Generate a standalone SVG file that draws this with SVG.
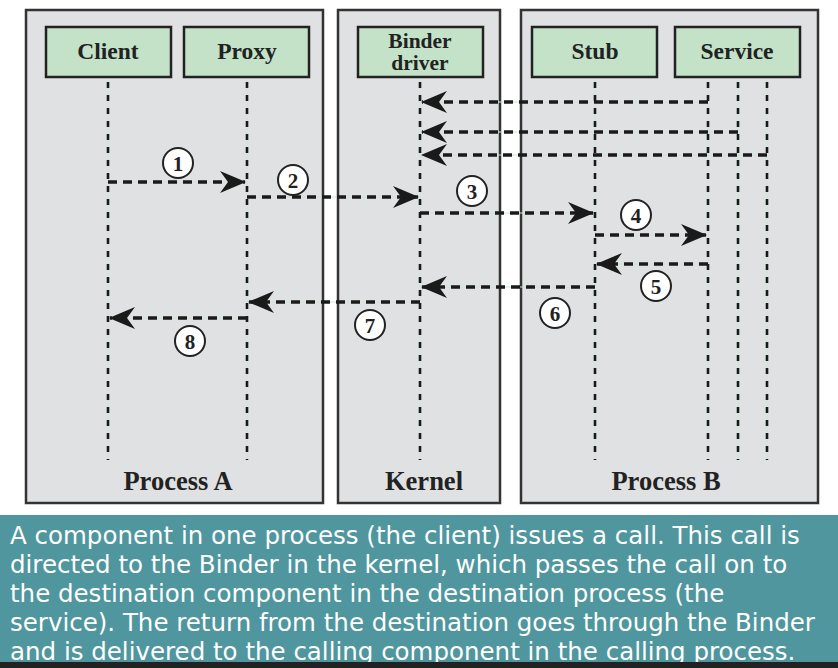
<svg xmlns="http://www.w3.org/2000/svg" width="838" height="668" viewBox="0 0 838 668">
<defs>
<style>
.box{fill:#e0e1e3;stroke:#333;stroke-width:2.5}
.node{fill:#c3e2c8;stroke:#222;stroke-width:2.5}
.nt{font-family:"Liberation Serif",serif;font-weight:bold;font-size:23.5px;fill:#222;text-anchor:middle}
.nt2{font-family:"Liberation Serif",serif;font-weight:bold;font-size:21.5px;fill:#222;text-anchor:middle}
.bt{font-family:"Liberation Serif",serif;font-weight:bold;font-size:26.5px;fill:#222;text-anchor:middle}
.guide{stroke:#c8e8d2;stroke-width:1;fill:none}
.life{stroke:#1a1a1a;stroke-width:2.6;stroke-dasharray:6 7;fill:none}
.msg{stroke:#1a1a1a;stroke-width:3.5;stroke-dasharray:9 6;fill:none}
.num circle{fill:#fff;stroke:#222;stroke-width:2}
.num text{font-family:"Liberation Serif",serif;font-weight:bold;font-size:21px;fill:#222;text-anchor:middle}
.cap{font-family:"DejaVu Sans",sans-serif;font-size:24.5px;fill:#fff}
</style>
<marker id="ah" viewBox="0 0 26 22" refX="25" refY="11" markerWidth="26" markerHeight="22" markerUnits="userSpaceOnUse" orient="auto">
<path d="M0,0 L26,11 L0,22 L8,11 Z" fill="#1a1a1a"/>
</marker>
</defs>
<rect width="838" height="668" fill="#fff"/>
<g id="processA"><rect class="box" x="26" y="10" width="297" height="493"/><text class="bt" x="178" y="490">Process A</text></g>
<g id="kernel"><rect class="box" x="338" y="10" width="162" height="493"/><text class="bt" x="424" y="490">Kernel</text></g>
<g id="processB"><rect class="box" x="521" y="10" width="297" height="493"/><text class="bt" x="666" y="490">Process B</text></g>
<g id="client"><rect class="node" x="46" y="27" width="125" height="50"/><text class="nt" x="108" y="59">Client</text></g>
<g id="proxy"><rect class="node" x="184" y="27" width="125" height="50"/><text class="nt" x="247" y="59">Proxy</text></g>
<g id="binder"><rect class="node" x="358" y="27" width="125" height="50"/><text class="nt2" x="420" y="48">Binder</text><text class="nt2" x="420" y="70">driver</text></g>
<g id="stub"><rect class="node" x="532" y="27" width="125" height="50"/><text class="nt" x="595" y="59">Stub</text></g>
<g id="service"><rect class="node" x="675" y="27" width="125" height="50"/><text class="nt" x="737" y="59">Service</text></g>
<g id="connectors">
<g class="guide">
<path d="M108,79V460M247,79V460M420,79V460M595,79V460M708,79V460M738,79V460M767,79V460"/>
<path d="M108,182H245M247,197H418M420,213H593M595,235H706M708,264H597M595,287H422M420,302H249M247,318H110M708,102H422M738,132H422M767,155H422"/>
</g>
<g class="life">
<path d="M108,82V460M247,82V460M420,82V460M595,82V460M708,82V460M738,82V460M767,82V460"/>
</g>
<g class="msg" marker-end="url(#ah)">
<path d="M108,182H245"/>
<path d="M247,197H418"/>
<path d="M420,213H593"/>
<path d="M595,235H706"/>
<path d="M708,264H597"/>
<path d="M595,287H422"/>
<path d="M420,302H249"/>
<path d="M247,318H110"/>
<path d="M708,102H422"/>
<path d="M738,132H422"/>
<path d="M767,155H422"/>
</g>
</g>
<g id="labels">
<g class="num"><circle cx="178" cy="163" r="15"/><text x="178" y="170.5">1</text></g>
<g class="num"><circle cx="293" cy="180" r="15"/><text x="293" y="187.5">2</text></g>
<g class="num"><circle cx="472" cy="191" r="15"/><text x="472" y="198.5">3</text></g>
<g class="num"><circle cx="636" cy="215" r="15"/><text x="636" y="222.5">4</text></g>
<g class="num"><circle cx="656" cy="286" r="15"/><text x="656" y="293.5">5</text></g>
<g class="num"><circle cx="555" cy="313" r="15"/><text x="555" y="320.5">6</text></g>
<g class="num"><circle cx="370" cy="325" r="15"/><text x="370" y="332.5">7</text></g>
<g class="num"><circle cx="190" cy="341" r="15"/><text x="190" y="348.5">8</text></g>
</g>
<g id="caption">
<rect x="0" y="515" width="838" height="153" fill="#4f969e"/>
<text class="cap" x="10" y="544">A component in one process (the client) issues a call. This call is</text>
<text class="cap" x="10" y="573">directed to the Binder in the kernel, which passes the call on to</text>
<text class="cap" x="10" y="602">the destination component in the destination process (the</text>
<text class="cap" x="10" y="631">service). The return from the destination goes through the Binder</text>
<text class="cap" x="10" y="660">and is delivered to the calling component in the calling process.</text>
<rect x="0" y="662" width="838" height="6" fill="#222"/>
</g>
</svg>
